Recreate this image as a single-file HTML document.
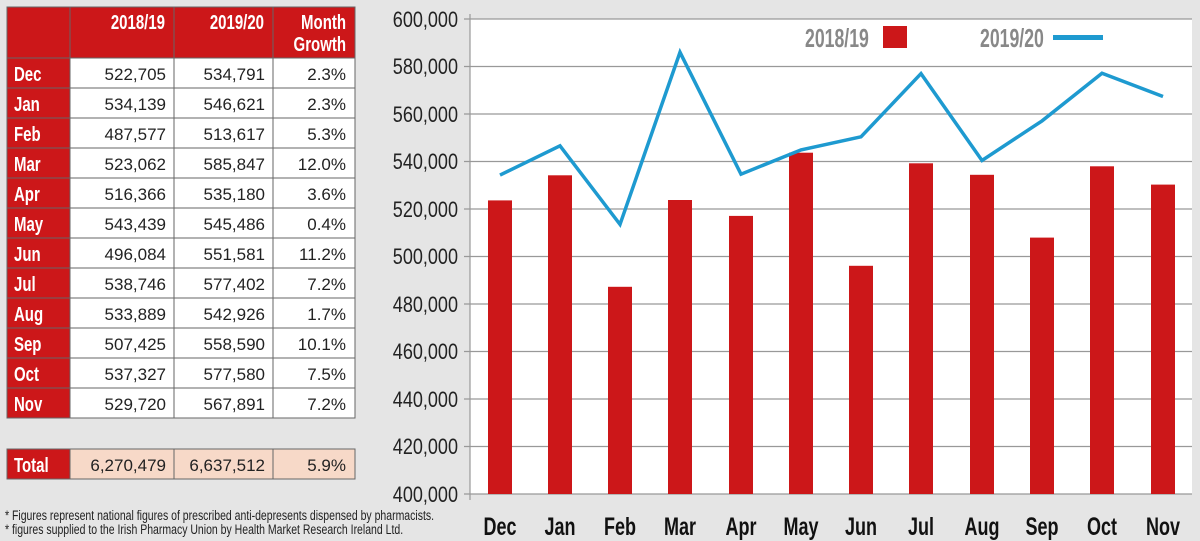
<!DOCTYPE html>
<html><head><meta charset="utf-8"><style>
html,body{margin:0;padding:0;background:#e5e5e5;}
svg{display:block;}
</style></head><body>
<svg width="1200" height="541" viewBox="0 0 1200 541" xmlns="http://www.w3.org/2000/svg" font-family="Liberation Sans, sans-serif">
<rect width="1200" height="541" fill="#e5e5e5"/>
<!-- table -->
<g>
<rect x="7" y="7" width="348" height="51" fill="#cc1719"/>
<rect x="7" y="58" width="63" height="360" fill="#cc1719"/>
<rect x="70" y="58" width="285" height="360" fill="#fff"/>
<rect x="7" y="449" width="63" height="30" fill="#cc1719"/>
<rect x="70" y="449" width="285" height="30" fill="#f7d9c8"/>
<g stroke="#666" stroke-width="1" fill="none">
<line x1="70" y1="7" x2="70" y2="418"/>
<line x1="174" y1="7" x2="174" y2="418"/>
<line x1="273" y1="7" x2="273" y2="418"/>
<rect x="7" y="7" width="348" height="411"/>
<line x1="7" y1="58" x2="355" y2="58"/>
<line x1="7" y1="88" x2="355" y2="88"/><line x1="7" y1="118" x2="355" y2="118"/>
<line x1="7" y1="148" x2="355" y2="148"/><line x1="7" y1="178" x2="355" y2="178"/>
<line x1="7" y1="208" x2="355" y2="208"/><line x1="7" y1="238" x2="355" y2="238"/>
<line x1="7" y1="268" x2="355" y2="268"/><line x1="7" y1="298" x2="355" y2="298"/>
<line x1="7" y1="328" x2="355" y2="328"/><line x1="7" y1="358" x2="355" y2="358"/>
<line x1="7" y1="388" x2="355" y2="388"/>
<rect x="7" y="449" width="348" height="30"/><line x1="70" y1="449" x2="70" y2="479"/><line x1="174" y1="449" x2="174" y2="479"/><line x1="273" y1="449" x2="273" y2="479"/>
</g>
<g fill="#fff" font-weight="bold" font-size="20" text-anchor="end">
<text x="165" y="29" transform="translate(165 0) scale(0.75 1) translate(-165 0)">2018/19</text>
<text x="264" y="29" transform="translate(264 0) scale(0.75 1) translate(-264 0)">2019/20</text>
<text x="346" y="29" transform="translate(346 0) scale(0.75 1) translate(-346 0)">Month</text>
<text x="346" y="51" transform="translate(346 0) scale(0.75 1) translate(-346 0)">Growth</text>
</g>
<g fill="#fff" font-weight="bold" font-size="20" transform="translate(14 0) scale(0.75 1) translate(-14 0)">
<text x="14" y="81">Dec</text><text x="14" y="111">Jan</text><text x="14" y="141">Feb</text>
<text x="14" y="171">Mar</text><text x="14" y="201">Apr</text><text x="14" y="231">May</text>
<text x="14" y="261">Jun</text><text x="14" y="291">Jul</text><text x="14" y="321">Aug</text>
<text x="14" y="351">Sep</text><text x="14" y="381">Oct</text><text x="14" y="411">Nov</text>
<text x="14" y="472">Total</text>
</g>
<g fill="#222" font-size="17" text-anchor="end">
<text x="166" y="80">522,705</text><text x="265" y="80">534,791</text><text x="346" y="80">2.3%</text>
<text x="166" y="110">534,139</text><text x="265" y="110">546,621</text><text x="346" y="110">2.3%</text>
<text x="166" y="140">487,577</text><text x="265" y="140">513,617</text><text x="346" y="140">5.3%</text>
<text x="166" y="170">523,062</text><text x="265" y="170">585,847</text><text x="346" y="170">12.0%</text>
<text x="166" y="200">516,366</text><text x="265" y="200">535,180</text><text x="346" y="200">3.6%</text>
<text x="166" y="230">543,439</text><text x="265" y="230">545,486</text><text x="346" y="230">0.4%</text>
<text x="166" y="260">496,084</text><text x="265" y="260">551,581</text><text x="346" y="260">11.2%</text>
<text x="166" y="290">538,746</text><text x="265" y="290">577,402</text><text x="346" y="290">7.2%</text>
<text x="166" y="320">533,889</text><text x="265" y="320">542,926</text><text x="346" y="320">1.7%</text>
<text x="166" y="350">507,425</text><text x="265" y="350">558,590</text><text x="346" y="350">10.1%</text>
<text x="166" y="380">537,327</text><text x="265" y="380">577,580</text><text x="346" y="380">7.5%</text>
<text x="166" y="410">529,720</text><text x="265" y="410">567,891</text><text x="346" y="410">7.2%</text>
<text x="166" y="471">6,270,479</text><text x="265" y="471">6,637,512</text><text x="346" y="471">5.9%</text>
</g>
<g fill="#222" font-size="14" transform="translate(5 0) scale(0.75 1) translate(-5 0)">
<text x="5" y="520">* Figures represent national figures of prescribed anti-depresents dispensed by pharmacists.</text>
<text x="5" y="534">* figures supplied to the Irish Pharmacy Union by Health Market Research Ireland Ltd.</text>
</g>
</g>
<!-- chart -->
<rect x="470" y="19" width="722" height="475" fill="#fff"/>
<g stroke="#999" stroke-width="1.2">
<line x1="464" y1="19" x2="1192" y2="19"/><line x1="464" y1="66.5" x2="1192" y2="66.5"/>
<line x1="464" y1="114" x2="1192" y2="114"/><line x1="464" y1="161.5" x2="1192" y2="161.5"/>
<line x1="464" y1="209" x2="1192" y2="209"/><line x1="464" y1="256.5" x2="1192" y2="256.5"/>
<line x1="464" y1="304" x2="1192" y2="304"/><line x1="464" y1="351.5" x2="1192" y2="351.5"/>
<line x1="464" y1="399" x2="1192" y2="399"/><line x1="464" y1="446.5" x2="1192" y2="446.5"/>
<line x1="464" y1="494" x2="1192" y2="494"/>
<line x1="470" y1="14" x2="470" y2="500"/>
</g>
<g fill="#222" font-size="22" text-anchor="end">
<g transform="translate(458 0) scale(0.82 1) translate(-458 0)">
<text x="458" y="27">600,000</text><text x="458" y="74">580,000</text><text x="458" y="122">560,000</text>
<text x="458" y="169">540,000</text><text x="458" y="217">520,000</text><text x="458" y="264">500,000</text>
<text x="458" y="312">480,000</text><text x="458" y="359">460,000</text><text x="458" y="407">440,000</text>
<text x="458" y="454">420,000</text><text x="458" y="502">400,000</text>
</g></g>
<g fill="#cc1719">
<rect x="488" y="200.4" width="24" height="293.6"/>
<rect x="548" y="175.3" width="24" height="318.7"/>
<rect x="608" y="286.8" width="24" height="207.2"/>
<rect x="668" y="200.0" width="24" height="294.0"/>
<rect x="729" y="215.9" width="24" height="278.1"/>
<rect x="789" y="152.7" width="24" height="341.3"/>
<rect x="849" y="265.8" width="24" height="228.2"/>
<rect x="909" y="163.3" width="24" height="330.7"/>
<rect x="970" y="174.8" width="24" height="319.2"/>
<rect x="1030" y="237.6" width="24" height="256.4"/>
<rect x="1090" y="166.3" width="24" height="327.7"/>
<rect x="1151" y="184.6" width="24" height="309.4"/>
</g>
<polyline fill="none" stroke="#1e9ad0" stroke-width="3.5" stroke-linejoin="miter" points="500,175.1 560,145.8 620,224.4 680,52.3 741,174.2 801,149.9 861,136.8 921,73.6 982,160.5 1042,120.9 1102,73.2 1163,96.5"/>
<!-- legend -->
<g fill="#888" font-weight="bold" font-size="26">
<text x="805" y="47" transform="translate(805 0) scale(0.68 1) translate(-805 0)">2018/19</text>
<text x="980" y="47" transform="translate(980 0) scale(0.68 1) translate(-980 0)">2019/20</text>
</g>
<rect x="883" y="26" width="24" height="22" fill="#cc1719"/>
<rect x="1053" y="35" width="50" height="5" fill="#1e9ad0"/>
<g fill="#111" font-weight="bold" font-size="25" text-anchor="middle">
<text x="500" y="535" transform="translate(500 0) scale(0.72 1) translate(-500 0)">Dec</text>
<text x="560" y="535" transform="translate(560 0) scale(0.72 1) translate(-560 0)">Jan</text>
<text x="620" y="535" transform="translate(620 0) scale(0.72 1) translate(-620 0)">Feb</text>
<text x="680" y="535" transform="translate(680 0) scale(0.72 1) translate(-680 0)">Mar</text>
<text x="741" y="535" transform="translate(741 0) scale(0.72 1) translate(-741 0)">Apr</text>
<text x="801" y="535" transform="translate(801 0) scale(0.72 1) translate(-801 0)">May</text>
<text x="861" y="535" transform="translate(861 0) scale(0.72 1) translate(-861 0)">Jun</text>
<text x="921" y="535" transform="translate(921 0) scale(0.72 1) translate(-921 0)">Jul</text>
<text x="982" y="535" transform="translate(982 0) scale(0.72 1) translate(-982 0)">Aug</text>
<text x="1042" y="535" transform="translate(1042 0) scale(0.72 1) translate(-1042 0)">Sep</text>
<text x="1102" y="535" transform="translate(1102 0) scale(0.72 1) translate(-1102 0)">Oct</text>
<text x="1163" y="535" transform="translate(1163 0) scale(0.72 1) translate(-1163 0)">Nov</text>
</g>
</svg>
</body></html>
